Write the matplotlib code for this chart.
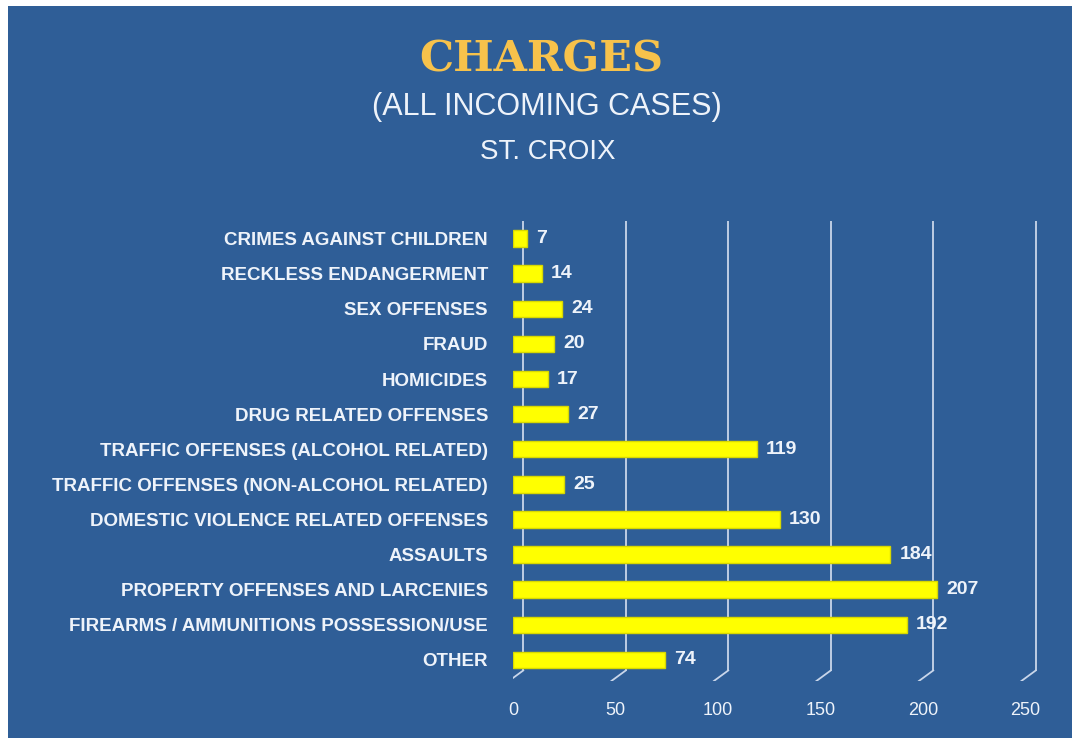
import matplotlib.pyplot as plt
from matplotlib.patches import Rectangle

# chart data (bottom to top)
categories = [
    "OTHER",
    "FIREARMS / AMMUNITIONS POSSESSION/USE",
    "PROPERTY OFFENSES AND LARCENIES",
    "ASSAULTS",
    "DOMESTIC VIOLENCE RELATED OFFENSES",
    "TRAFFIC OFFENSES (NON-ALCOHOL RELATED)",
    "TRAFFIC OFFENSES (ALCOHOL RELATED)",
    "DRUG RELATED OFFENSES",
    "HOMICIDES",
    "FRAUD",
    "SEX OFFENSES",
    "RECKLESS ENDANGERMENT",
    "CRIMES AGAINST CHILDREN",
]
counts = [74, 192, 207, 184, 130, 25, 119, 27, 17, 20, 24, 14, 7]
x_ticks = [0, 50, 100, 150, 200, 250]

bg = "#2F5E97"
txt = "#EEF3FA"
label_font = ["Liberation Sans", "DejaVu Sans"]

fig = plt.figure(figsize=(10.78, 7.40), dpi=100, facecolor="white")
fig.patches.append(Rectangle((8 / 1078, 2 / 740), 1064 / 1078, 732 / 740,
                             transform=fig.transFigure, facecolor=bg,
                             edgecolor="none", zorder=-10))

ax = fig.add_axes([513 / 1078, 59 / 740, 533 / 1078, 460 / 740])
ax.set_facecolor("none")
ax.set_xlim(0, 260)
ax.set_ylim(-0.6, 12.5)

# pseudo-3D gridlines, shifted right with a small diagonal foot
depth = 5
for t in x_ticks:
    ax.plot([t + depth, t + depth], [-0.3, 12.5], color="#C9D6EA", lw=1.3, zorder=1)
    ax.plot([t - 2, t + depth], [-0.6, -0.3], color="#C9D6EA", lw=1.3, zorder=1)

y = range(len(categories))
ax.barh(y, counts, height=0.47, color="#FFFF00", edgecolor="#D8D800",
        linewidth=1, zorder=2)
for yi, v in zip(y, counts):
    ax.text(v + 4.5, yi, str(v), va="center", ha="left", color=txt,
            fontsize=14, fontweight="bold", family=label_font, zorder=3)

ax.set_yticks(list(y))
ax.set_yticklabels(categories, fontsize=13.5, fontweight="bold",
                   family=label_font, color=txt)
ax.set_xticks(x_ticks)
ax.set_xticklabels([str(t) for t in x_ticks], fontsize=13,
                   family=label_font, color=txt)
ax.tick_params(axis="y", length=0, pad=18)
ax.tick_params(axis="x", length=0, pad=15)
for s in ax.spines.values():
    s.set_visible(False)

fig.text(541 / 1078, 1 - 60 / 740, "CHARGES", ha="center", va="center",
         color="#F7C24B", fontsize=31, fontweight="bold", family="DejaVu Serif")
fig.text(547 / 1078, 1 - 107 / 740, "(ALL INCOMING CASES)", ha="center",
         va="center", color=txt, fontsize=22, family=label_font)
fig.text(548 / 1078, 1 - 152 / 740, "ST. CROIX", ha="center", va="center",
         color=txt, fontsize=20, family=label_font)

fig.savefig("out.png", dpi=100, facecolor="white")
